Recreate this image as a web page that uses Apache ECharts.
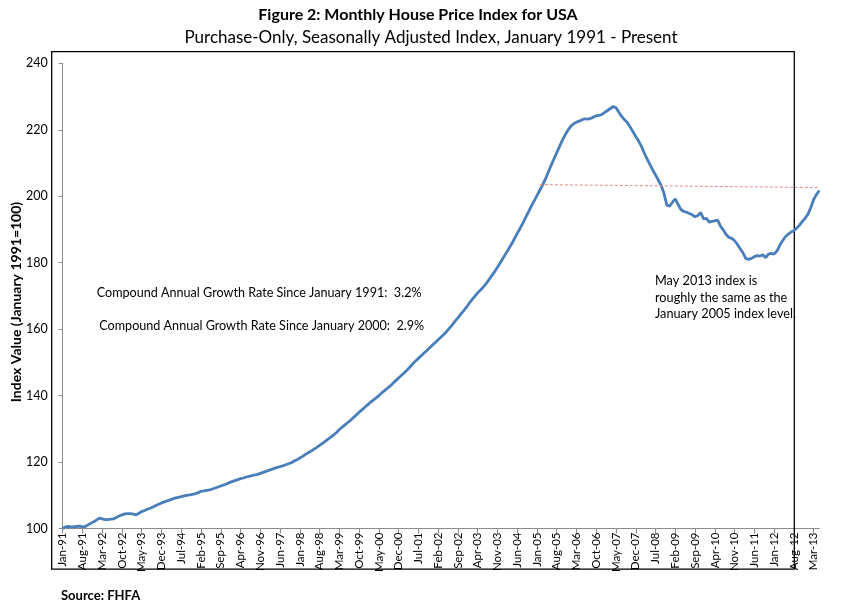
<!DOCTYPE html>
<html>
<head>
<meta charset="utf-8">
<script src="https://cdn.jsdelivr.net/npm/echarts@6/dist/echarts.min.js"></script>
<style>
html,body{margin:0;padding:0;background:#fff;}
#chart{width:850px;height:613px;}
</style>
</head>
<body>
<div id="chart"></div>
<script>
// ---- data ----
var monthNames = ['Jan','Feb','Mar','Apr','May','Jun','Jul','Aug','Sep','Oct','Nov','Dec'];
var startYear = 1991;
var hpi1991to1999 = [
  100.0, 100.5, 100.6, 100.5, 100.5, 100.6, 100.7, 100.5, 100.6, 101.1, 101.6, 102.0,
  102.6, 103.1, 102.9, 102.7, 102.7, 102.8, 102.9, 103.3, 103.8, 104.1, 104.4, 104.5,
  104.5, 104.3, 104.1, 104.6, 105.1, 105.4, 105.8, 106.1, 106.5, 106.9, 107.3, 107.7,
  108.0, 108.3, 108.6, 108.9, 109.2, 109.4, 109.6, 109.8, 110.0, 110.1, 110.3, 110.5,
  110.8, 111.2, 111.3, 111.5, 111.6, 111.9, 112.2, 112.5, 112.8, 113.1, 113.4, 113.8,
  114.1, 114.4, 114.7, 115.0, 115.2, 115.5, 115.7, 115.9, 116.1, 116.3, 116.6, 116.9,
  117.2, 117.5, 117.8, 118.1, 118.4, 118.6, 118.9, 119.2, 119.5, 119.8, 120.3, 120.7,
  121.2, 121.7, 122.3, 122.8, 123.3, 123.9, 124.4, 125.0, 125.6, 126.2, 126.9, 127.5,
  128.2, 128.9, 129.8, 130.5, 131.2, 131.9, 132.6, 133.4, 134.2, 135.0, 135.7, 136.5
];
var hpi2000to2006 = [
  137.2, 138.0, 138.6, 139.3, 140.0, 140.8, 141.5, 142.2, 142.9, 143.7, 144.5, 145.3,
  146.1, 146.9, 147.7, 148.6, 149.6, 150.4, 151.2, 152.0, 152.8, 153.6, 154.4, 155.2,
  156.0, 156.8, 157.6, 158.4, 159.3, 160.3, 161.3, 162.4, 163.4, 164.5, 165.5, 166.6,
  167.8, 168.9, 169.9, 170.9, 171.8, 172.7, 173.7, 174.9, 176.1, 177.3, 178.6, 180.0,
  181.4, 182.8, 184.2, 185.6, 187.2, 188.8, 190.3, 191.9, 193.6, 195.3, 197.0, 198.6,
  200.2, 201.8, 203.4, 205.2, 207.2, 209.3, 211.2, 213.1, 215.0, 216.9, 218.5, 219.9,
  221.1, 221.8, 222.3, 222.6, 223.0, 223.3, 223.2, 223.4, 223.8, 224.2, 224.3, 224.6
];
var hpi2007to2013 = [
  225.2, 225.8, 226.4, 227.0, 226.6, 225.3, 224.0, 223.0, 222.2, 220.8, 219.4, 218.0,
  216.6, 215.0, 213.0, 211.2, 209.6, 207.9, 206.4, 204.8, 203.2, 200.8, 197.3, 197.0,
  198.2, 199.2, 197.5, 196.0, 195.4, 195.2, 194.8, 194.4, 193.8, 194.2, 195.1, 193.2,
  193.3, 192.2, 192.4, 192.6, 192.8, 191.0, 189.8, 188.5, 187.6, 187.3, 186.6, 185.5,
  184.2, 182.9, 181.2, 181.0, 181.3, 181.8, 182.1, 182.0, 182.4, 181.5, 182.6, 182.8,
  182.6, 183.5, 185.2, 186.6, 187.8, 188.6, 189.2, 189.6, 190.4, 191.3, 192.4, 193.4,
  194.6, 196.6, 199.0, 200.5, 201.7
];
var refLineStart = ['Feb-05', 203.5];
var refLineEnd = ['May-13', 202.6];
var yTicks = {min: 100, max: 240, interval: 20};

var values = hpi1991to1999.concat(hpi2000to2006, hpi2007to2013);
var categories = values.map(function (v, i) {
  var y = startYear + Math.floor(i / 12);
  return monthNames[i % 12] + '-' + String(y).slice(2);
});

var FONT = 'Lato, "Open Sans", sans-serif';
var chart = echarts.init(document.getElementById('chart'));
chart.setOption({
  animation: false,
  backgroundColor: '#fff',
  grid: {left: 62.7, right: 30.7, top: 63.3, bottom: 84.5, containLabel: false},
  xAxis: {
    type: 'category',
    data: categories,
    boundaryGap: false,
    axisLine: {lineStyle: {color: '#8c8c8c', width: 1}},
    axisTick: {show: true, interval: 6, length: 5, lineStyle: {color: '#8c8c8c'}},
    axisLabel: {interval: 6, rotate: 90, fontSize: 11.5, color: '#000', margin: 4, fontFamily: FONT},
    splitLine: {show: false}
  },
  yAxis: {
    type: 'value',
    min: yTicks.min, max: yTicks.max, interval: yTicks.interval,
    axisLine: {show: true, lineStyle: {color: '#8c8c8c', width: 1}},
    axisTick: {show: true, length: 4, lineStyle: {color: '#8c8c8c'}},
    axisLabel: {fontSize: 12.5, color: '#000', margin: 15, fontFamily: FONT},
    splitLine: {show: false}
  },
  series: [{
    type: 'line',
    data: values,
    showSymbol: false,
    symbol: 'none',
    lineStyle: {color: '#4a7ebb', width: 2.8},
    z: 3,
    markLine: {
      silent: true,
      symbol: 'none',
      label: {show: false},
      lineStyle: {color: '#e58a8a', width: 1, type: [3, 2]},
      data: [[{coord: refLineStart}, {coord: refLineEnd}]]
    }
  }],
  graphic: [
    {type: 'rect', shape: {x: 51.7, y: 51.7, width: 742.6, height: 517.5}, style: {fill: 'none', stroke: '#000', lineWidth: 1.3}, z: 1, silent: true},
    {type: 'text', x: 418, y: 15, style: {text: 'Figure 2: Monthly House Price Index for USA', font: 'bold 16px ' + FONT, fill: '#000', textAlign: 'center', textVerticalAlign: 'middle'}},
    {type: 'text', x: 431, y: 38, style: {text: 'Purchase-Only, Seasonally Adjusted Index, January 1991 - Present', font: '17px ' + FONT, fill: '#000', textAlign: 'center', textVerticalAlign: 'middle'}},
    {type: 'text', x: 16, y: 302, rotation: Math.PI / 2, style: {text: 'Index Value (January 1991=100)', font: 'bold 14px ' + FONT, fill: '#000', textAlign: 'center', textVerticalAlign: 'middle'}},
    {type: 'text', x: 96.7, y: 293.3, style: {text: 'Compound Annual Growth Rate Since January 1991:  3.2%', font: '12.6px ' + FONT, fill: '#000', textAlign: 'left', textVerticalAlign: 'middle'}},
    {type: 'text', x: 99.3, y: 325.7, style: {text: 'Compound Annual Growth Rate Since January 2000:  2.9%', font: '12.6px ' + FONT, fill: '#000', textAlign: 'left', textVerticalAlign: 'middle'}},
    {type: 'text', x: 655, y: 272.5, style: {text: 'May 2013 index is\nroughly the same as the\nJanuary 2005 index level.', font: '12.7px ' + FONT, lineHeight: 16.7, fill: '#000', textAlign: 'left', textVerticalAlign: 'top'}},
    {type: 'text', x: 61, y: 596, style: {text: 'Source: FHFA', font: 'bold 13px ' + FONT, fill: '#000', textAlign: 'left', textVerticalAlign: 'middle'}}
  ]
});
</script>
</body>
</html>
